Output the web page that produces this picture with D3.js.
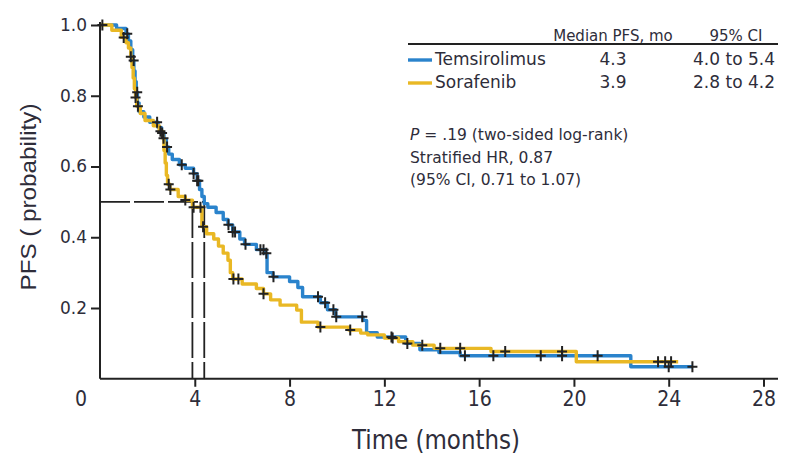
<!DOCTYPE html>
<html><head><meta charset="utf-8">
<script src="https://cdn.jsdelivr.net/npm/d3@7/dist/d3.min.js"></script>
<style>
html,body{margin:0;padding:0;background:#fff;}
svg{display:block;}
</style></head>
<body>
<svg id="chart" width="786" height="455"></svg>
<script>
// ---------- data ----------
const seriesNames = ["Temsirolimus", "Sorafenib"];
const seriesColors = ["#2a83cc", "#e9b824"];
const medianPFS = ["4.3", "3.9"];
const ci95 = ["4.0 to 5.4", "2.8 to 4.2"];

// Kaplan-Meier steps: [time (months), PFS probability]
const temsirolimusSteps = [
  [0,1.0],[0.7,0.99],[1.1,0.975],[1.2,0.955],[1.3,0.93],[1.38,0.90],[1.43,0.87],[1.48,0.84],
  [1.53,0.81],[1.58,0.78],[1.65,0.755],[1.85,0.74],[2.1,0.725],[2.45,0.71],[2.6,0.695],
  [2.7,0.675],[2.8,0.655],[2.9,0.635],[3.05,0.62],[3.35,0.605],[3.6,0.595],[3.95,0.58],
  [4.1,0.56],[4.2,0.535],[4.3,0.515],[4.4,0.495],[4.55,0.485],[4.9,0.47],[5.2,0.45],
  [5.4,0.435],[5.6,0.415],[5.9,0.395],[6.1,0.38],[6.6,0.365],[6.95,0.355],[7.05,0.30],
  [7.3,0.288],[8.0,0.275],[8.35,0.258],[8.55,0.232],[9.3,0.215],[9.6,0.195],[9.95,0.175],
  [11.1,0.165],[11.25,0.13],[11.7,0.118],[12.9,0.10],[13.5,0.082],[14.3,0.074],[15.2,0.065],
  [22.4,0.034],[25.0,0.034]
];
const sorafenibSteps = [
  [0,1.0],[0.5,0.985],[0.9,0.965],[1.1,0.95],[1.2,0.935],[1.3,0.91],[1.35,0.88],[1.4,0.85],
  [1.45,0.82],[1.5,0.795],[1.55,0.77],[1.7,0.75],[1.9,0.73],[2.25,0.715],[2.5,0.70],
  [2.65,0.68],[2.7,0.645],[2.75,0.61],[2.8,0.575],[2.85,0.55],[2.95,0.535],[3.3,0.515],
  [3.6,0.505],[3.9,0.485],[4.3,0.43],[4.5,0.41],[4.8,0.395],[5.0,0.375],[5.2,0.355],
  [5.4,0.335],[5.5,0.30],[5.6,0.282],[6.0,0.268],[6.6,0.255],[6.9,0.24],[7.2,0.223],
  [7.6,0.208],[8.3,0.194],[8.5,0.16],[9.2,0.146],[10.5,0.138],[11.0,0.129],[11.3,0.124],
  [12.0,0.115],[12.6,0.105],[13.2,0.095],[14.1,0.086],[16.5,0.077],[20.1,0.048],[24.4,0.048]
];
// censoring times (months)
const temsirolimusCensored = [0.1,1.15,1.42,1.57,2.41,2.62,2.83,3.45,3.95,4.1,4.15,5.42,5.6,5.7,
  6.14,6.77,6.9,7.02,7.32,9.2,9.5,9.85,9.97,11.07,12.3,12.97,15.4,16.6,18.6,19.5,21.0,24.0,25.0];
const sorafenibCensored = [1.0,1.3,1.5,1.6,2.55,2.68,2.9,2.97,3.6,3.95,4.24,4.35,5.63,5.84,6.9,
  9.3,10.56,12.35,13.6,14.36,15.2,17.1,19.5,23.55,23.85,24.1];

// median guide lines (months) drawn at PFS = 0.5
const medianGuideTimes = [3.9, 4.4];
const medianLevel = 0.5;

const xTicks = [4, 8, 12, 16, 20, 24, 28];
const yTicks = [0.2, 0.4, 0.6, 0.8, 1.0];
const statsLines = ["= .19 (two-sided log-rank)", "Stratified HR, 0.87", "(95% CI, 0.71 to 1.07)"];

// ---------- drawing ----------
const svg = d3.select("#chart");
const x = d3.scaleLinear().domain([0, 28]).range([100, 763.5]);
const y = d3.scaleLinear().domain([0, 1]).range([378.75, 25]);
const ink = "#222";
const txt = "#2e2d3a";

// median guides
const g0 = svg.append("g");
g0.append("line")
  .attr("x1", x(0)).attr("x2", x(d3.max(medianGuideTimes)))
  .attr("y1", y(medianLevel)).attr("y2", y(medianLevel))
  .attr("stroke", ink).attr("stroke-width", 1.8).attr("stroke-dasharray", "30,4");
medianGuideTimes.forEach(t => {
  g0.append("line")
    .attr("x1", x(t)).attr("x2", x(t))
    .attr("y1", y(medianLevel)).attr("y2", y(0))
    .attr("stroke", ink).attr("stroke-width", 1.8).attr("stroke-dasharray", "36,4");
});

// curves
const line = d3.line().x(d => x(d[0])).y(d => y(d[1])).curve(d3.curveStepAfter);
const allSteps = [temsirolimusSteps, sorafenibSteps];
const allCens = [temsirolimusCensored, sorafenibCensored];
allSteps.forEach((s, i) => {
  svg.append("path").datum(s).attr("d", line)
    .attr("fill", "none").attr("stroke", seriesColors[i])
    .attr("stroke-width", 3.4).attr("stroke-linejoin", "round");
});
// censor marks
const bis = d3.bisector(d => d[0]).right;
allCens.forEach((cs, i) => {
  const steps = allSteps[i];
  cs.forEach(t => {
    const k = Math.max(0, bis(steps, t) - 1);
    const cx = x(t), cy = y(steps[k][1]);
    svg.append("path")
      .attr("d", `M${cx-5},${cy}H${cx+5}M${cx},${cy-5.5}V${cy+5.5}`)
      .attr("stroke", ink).attr("stroke-width", 2);
  });
});

// axes
const yAxis = d3.axisLeft(y).tickValues(yTicks).tickFormat(d3.format(".1f")).tickSize(9).tickSizeOuter(0).tickPadding(4);
const gy = svg.append("g").attr("transform", `translate(${x(0)},0)`).call(yAxis);
gy.select(".domain").attr("d", `M0,22V${y(0)}`).attr("stroke", ink).attr("stroke-width", 2);
gy.selectAll(".tick line").attr("stroke", ink).attr("stroke-width", 2);
gy.selectAll(".tick text").attr("fill", txt).attr("font-family", "'DejaVu Sans', sans-serif").attr("font-size", 17);

const xAxis = d3.axisBottom(x).tickValues(xTicks).tickFormat(d3.format("d")).tickSize(8).tickSizeOuter(0).tickPadding(4);
const gx = svg.append("g").attr("transform", `translate(0,${y(0)})`).call(xAxis);
gx.select(".domain").attr("d", `M${x(0)},0H778`).attr("stroke", ink).attr("stroke-width", 2);
gx.selectAll(".tick line").attr("stroke", ink).attr("stroke-width", 2);
gx.selectAll(".tick text").attr("fill", txt).attr("font-family", "'Liberation Sans Narrow', 'DejaVu Sans Condensed', sans-serif").attr("font-size", 21);
// origin label
svg.append("text").attr("x", 81).attr("y", 406).attr("text-anchor", "middle")
  .attr("fill", txt).attr("font-family", "'Liberation Sans Narrow', 'DejaVu Sans Condensed', sans-serif").attr("font-size", 21).text("0");

// axis titles
svg.append("text").attr("x", 436).attr("y", 449).attr("text-anchor", "middle")
  .attr("fill", txt).attr("font-family", "'Liberation Sans Narrow', 'DejaVu Sans Condensed', sans-serif")
  .attr("font-size", 27).attr("textLength", 168).attr("lengthAdjust", "spacingAndGlyphs")
  .text("Time (months)");
svg.append("text").attr("transform", "translate(36,197) rotate(-90)").attr("text-anchor", "middle")
  .attr("fill", txt).attr("font-family", "'Liberation Sans', sans-serif")
  .attr("font-size", 22).attr("textLength", 187).attr("lengthAdjust", "spacingAndGlyphs")
  .text("PFS ( probability)");

// legend table
const lg = svg.append("g").attr("font-family", "'DejaVu Sans', sans-serif").attr("fill", txt);
lg.append("text").attr("x", 613).attr("y", 41).attr("text-anchor", "middle").attr("font-size", 15).text("Median PFS, mo");
lg.append("text").attr("x", 736).attr("y", 41).attr("text-anchor", "middle").attr("font-size", 15).text("95% CI");
lg.append("line").attr("x1", 408).attr("x2", 778).attr("y1", 44).attr("y2", 44).attr("stroke", ink).attr("stroke-width", 2);
seriesNames.forEach((n, i) => {
  const yy = 65 + i * 23;
  lg.append("line").attr("x1", 408).attr("x2", 432).attr("y1", yy - 5).attr("y2", yy - 5)
    .attr("stroke", seriesColors[i]).attr("stroke-width", 3.4);
  lg.append("text").attr("x", 435).attr("y", yy).attr("font-size", 17).text(n);
  lg.append("text").attr("x", 613).attr("y", yy).attr("text-anchor", "middle").attr("font-size", 17).text(medianPFS[i]);
  lg.append("text").attr("x", 775).attr("y", yy).attr("text-anchor", "end").attr("font-size", 17).text(ci95[i]);
});

// stats
const st = svg.append("g").attr("font-family", "'DejaVu Sans', sans-serif").attr("fill", txt).attr("font-size", 15.5);
const t0 = st.append("text").attr("x", 410).attr("y", 140);
t0.append("tspan").attr("font-style", "italic").text("P");
t0.append("tspan").text(" " + statsLines[0]);
st.append("text").attr("x", 410).attr("y", 162.5).text(statsLines[1]);
st.append("text").attr("x", 410).attr("y", 185).text(statsLines[2]);
</script>
</body></html>
